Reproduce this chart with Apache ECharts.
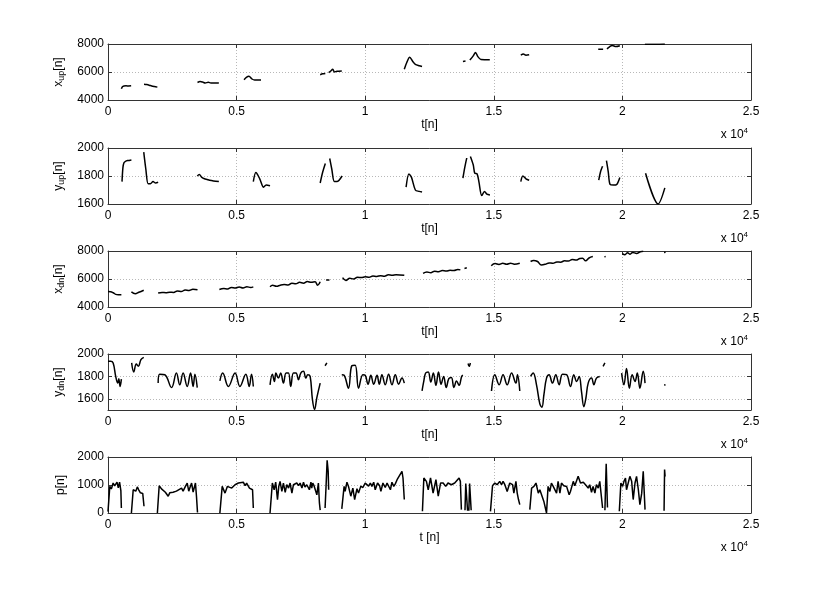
<!DOCTYPE html>
<html><head><meta charset="utf-8">
<script src="https://cdn.jsdelivr.net/npm/echarts@6/dist/echarts.min.js"></script>
<style>html,body{margin:0;padding:0;background:#fff}#c{width:830px;height:597px}</style>
</head><body><div id="c"></div>
<script>
// ---------- data (null = gap between recorded segments) ----------
const xTickLabels = ['0','0.5','1','1.5','2','2.5'];

const tXup = [520,560,620,700,800,900,null,
 1400,1500,1600,1700,1800,1920,null,
 3480,3580,3680,3780,3900,4000,4150,4310,null,
 5290,5380,5480,5600,5700,5950,null,
 8250,8350,8450,null,
 8580,8650,8740,8800,8900,9090,null,
 11520,11620,11730,11850,11950,12100,12210,null,
 13800,13900,null,
 14070,14200,14290,14380,14500,14844,null,
 16050,16150,16250,16375,null,
 19060,19250,null,
 19400,19500,19600,19750,19900,null,
 20875,21300,21650];
const xUp = [4800,4950,5000,5010,5000,5010,null,
 5120,5100,5060,5000,4960,4920,null,
 5250,5320,5280,5220,5260,5220,5220,5210,null,
 5450,5620,5700,5500,5430,5430,null,
 5800,5870,5900,null,
 5950,6050,6200,6000,6050,6080,null,
 6200,6700,7050,6750,6550,6450,6400,null,
 6750,6780,null,
 6850,7150,7400,7100,6900,6880,null,
 7200,7280,7200,7230,null,
 7620,7620,null,
 7650,7800,7900,7820,7880,null,
 7990,7980,8000];

const tYup = [545,580,620,680,760,910,null,
 1390,1470,1560,1650,1750,1850,1950,null,
 3470,3550,3650,3750,3850,3950,4100,4310,null,
 5650,5750,5900,6050,6150,6300,null,
 8250,8350,8450,null,
 8620,8700,8800,8900,9100,null,
 11590,11700,11800,11950,12100,12210,null,
 13800,13870,13950,null,
 14090,14200,14260,14350,14420,14530,14640,14730,14850,null,
 16050,16130,16250,16375,null,
 19080,19150,19230,null,
 19380,19450,19520,19650,19780,19900,null,
 20900,21390,21650];
const yUp = [1760,1860,1895,1905,1910,1915,null,
 1970,1850,1745,1745,1760,1750,1755,null,
 1800,1810,1790,1780,1775,1770,1765,1760,null,
 1760,1825,1780,1720,1735,1730,null,
 1750,1830,1890,null,
 1925,1850,1760,1760,1800,null,
 1720,1815,1790,1700,1690,1685,null,
 1785,1860,1930,null,
 1940,1880,1820,1815,1760,1660,1690,1670,1665,null,
 1760,1800,1780,1770,null,
 1770,1830,1870,null,
 1910,1830,1740,1735,1740,1790,null,
 1820,1600,1715];

const tXdn = [0,100,200,300,400,520,null,
 910,1060,1200,1390,null,
 1950,2100,2250,2400,2550,2700,2850,3000,3150,3300,3480,null,
 4330,4500,4650,4800,4950,5100,5250,5400,5550,5650,null,
 6300,6400,6550,6700,6850,7000,7150,7300,7450,7600,7750,7900,8050,8150,8250,null,
 8480,8610,null,
 9120,9250,9400,9550,9700,9850,10000,10150,10300,10450,10600,10750,10900,11050,11200,11520,null,
 12250,12400,12550,12700,12850,13000,13150,13300,13450,13600,13700,null,
 13860,13950,null,
 14900,15050,15200,15350,15500,15650,15800,16010,null,
 16430,16550,16700,16850,17000,17150,17300,17450,17600,17750,17900,18050,18200,18350,18450,18570,18700,18850,null,
 19300,19350,null,
 20000,20100,20200,20300,20400,20550,20700,20810,null,
 21620,21680];
const xDn = [5100,5090,5020,4900,4870,4870,null,
 5080,4950,5050,5200,null,
 5000,5040,5020,5060,5040,5150,5100,5220,5180,5260,5230,null,
 5250,5320,5290,5400,5360,5430,5360,5440,5400,5440,null,
 5450,5560,5480,5560,5600,5570,5700,5660,5760,5700,5820,5760,5800,5560,5800,null,
 5920,5930,null,
 6100,5900,6050,6000,6130,6100,6160,6120,6220,6180,6240,6200,6300,6270,6310,6270,null,
 6400,6500,6450,6560,6520,6600,6570,6620,6600,6680,6650,null,
 6750,6800,null,
 6950,7100,7040,7120,7050,7130,7060,7130,null,
 7250,7330,7250,7000,7050,7150,7120,7220,7200,7300,7280,7400,7350,7470,7480,7300,7500,7600,null,
 7580,7600,null,
 7820,7740,7880,7770,7900,7830,7950,7990,null,
 7900,7910];

const tYdn = [0,100,200,300,380,420,470,520,null,
 920,1000,1100,1180,1280,1390,null,
 1950,2010,2210,2470,2660,2790,2920,3080,3210,3310,3380,3470,null,
 4350,4460,4680,4940,5130,5360,5490,5580,5650,null,
 6300,6390,6470,6530,6625,6715,6820,6925,7015,7105,7210,7310,7405,7495,7600,7690,7770,7860,7950,8030,8120,8250,null,
 8440,8510,null,
 9090,9180,9350,9480,9610,9740,9910,10000,10110,10220,10330,10460,10550,10650,10780,10910,11040,11170,11300,11430,11520,null,
 12210,12280,12350,12450,12550,12650,12750,12850,12950,13050,13150,13250,13350,13450,13550,13650,13750,13800,null,
 14000,14040,14090,null,
 14910,15040,15210,15360,15520,15690,15860,15920,16010,null,
 16430,16530,16660,16790,16870,16950,17050,17150,17280,17410,17540,17670,17830,17980,18110,18220,18320,18410,18500,18580,18670,18800,18890,18990,19120,null,
 19250,19320,null,
 19970,20060,20160,20270,20380,20490,20580,20680,20810,20880,null,
 21620,21680];
const yDn = [1935,1935,1920,1800,1740,1780,1710,1775,null,
 1920,1840,1910,1890,1950,1970,null,
 1740,1820,1815,1700,1830,1725,1830,1710,1830,1710,1820,1700,null,
 1760,1830,1710,1830,1710,1820,1710,1820,1710,null,
 1725,1820,1755,1830,1785,1830,1740,1830,1830,1710,1830,1830,1770,1830,1845,1785,1815,1800,1590,1505,1610,1740,null,
 1895,1920,null,
 1815,1810,1695,1895,1900,1695,1815,1810,1730,1810,1730,1810,1730,1815,1725,1820,1725,1815,1730,1785,1740,null,
 1670,1760,1830,1840,1750,1830,1720,1840,1730,1800,1700,1780,1790,1700,1760,1720,1800,1810,null,
 1915,1890,1920,null,
 1670,1815,1725,1815,1725,1830,1740,1815,1670,null,
 1800,1830,1725,1555,1525,1640,1785,1815,1740,1815,1725,1820,1815,1710,1815,1755,1800,1665,1530,1605,1740,1785,1725,1785,1800,null,
 1890,1920,null,
 1830,1725,1870,1695,1815,1755,1830,1695,1845,1740,null,
 1725,1722];

const tP = [0,70,130,200,260,350,400,450,500,520,null,
 910,980,1040,1080,1140,1200,1260,1310,1350,1400,null,
 1920,1990,2080,2140,2230,2340,2400,2470,2530,2660,2730,2860,2920,3010,3080,3140,3180,3250,3310,3400,3440,3480,null,
 4350,4440,4550,4640,4810,4940,5070,5130,5260,5330,5390,5500,5550,5620,5650,null,
 6300,6390,6460,6520,6590,6640,6690,6760,6820,6890,6950,7020,7080,7150,7210,7280,7340,7410,7470,7540,7600,7660,7730,7790,7830,7890,7920,7960,8010,8120,8180,8220,8250,null,
 8440,8480,8520,8560,8580,null,
 9090,9180,9220,9290,9350,9440,9520,9590,9680,9740,9830,9910,10000,10070,10130,10200,10260,10330,10390,10480,10560,10610,10690,10780,10850,10910,10980,11040,11110,11170,11240,11300,11430,11470,11520,null,
 12225,12280,12380,12450,12540,12640,12750,12840,12930,13030,13130,13220,13350,13480,13650,13700,13740,null,
 13880,13910,13950,13980,null,
 14030,14060,14090,14120,null,
 14870,14950,15040,15130,15230,15300,15360,15430,15520,15620,15730,15780,15860,15910,15960,16010,null,
 16400,16470,16560,16640,16730,16790,16850,16950,17050,17110,17180,17240,17310,17370,17440,17500,17570,17630,17720,17830,17930,17980,18020,18090,18150,18220,18280,18370,18480,18540,18600,18670,18730,18800,18860,18930,18990,19060,19120,19190,19230,null,
 19320,19370,19420,null,
 19880,19940,20010,20060,20120,20160,20230,20290,20360,20420,20490,20550,20620,20680,20750,20810,20880,null,
 21620,21640,21660];
const pVal = [50,950,860,1070,970,1100,900,1100,800,180,null,
 0,830,890,780,930,820,720,780,700,240,null,
 0,975,860,830,740,600,720,660,740,780,720,890,780,950,1070,780,890,1070,750,1070,600,20,null,
 0,950,710,950,890,1010,1070,1010,1100,975,1070,890,950,830,180,null,
 0,1070,830,1100,480,950,1130,770,1070,740,1010,890,1070,710,1010,950,1070,975,1070,890,1100,930,1010,1070,830,1100,890,1070,975,650,1070,360,100,null,
 180,1000,1880,1500,830,null,
 150,950,770,1100,950,600,890,480,870,710,960,910,1070,1010,960,1070,950,1100,830,1070,975,770,1070,910,1070,1130,830,1100,950,1040,1190,1250,1490,1250,480,null,
 60,1250,1130,830,1250,710,1190,600,1070,1070,950,1070,1010,1070,1250,1130,120,null,
 100,1050,1030,80,null,
 80,1050,1030,100,null,
 60,975,1070,1010,1130,1010,1130,1010,770,1070,1010,710,1130,710,480,300,null,
 120,890,950,1070,710,830,770,400,0,950,770,1070,950,1010,710,1130,710,1070,975,950,650,770,710,1130,975,1010,1310,1070,1100,1070,975,890,1010,740,950,710,1010,890,1130,1070,180,null,
 100,1760,200,null,
 60,1070,950,1130,1250,830,770,1310,1130,480,1070,1310,830,300,700,1490,120,null,
 80,1550,1300];

// ---------- chart ----------
const FONT = '"Liberation Sans", Helvetica, Arial, sans-serif';
const TOPS = [44,148,251,354,457];
const H = 56;
const AX = '#333';
const panels = [
  {t:tXup, v:xUp, min:4000, max:8000, interval:2000, name:'x{sub|up}[n]', xname:'t[n]', smooth:0.3},
  {t:tYup, v:yUp, min:1600, max:2000, interval:200, name:'y{sub|up}[n]', xname:'t[n]', smooth:0.3},
  {t:tXdn, v:xDn, min:4000, max:8000, interval:2000, name:'x{sub|dn}[n]', xname:'t[n]', smooth:0.4},
  {t:tYdn, v:yDn, min:1500, max:2000, custom:[1600,1800,2000], name:'y{sub|dn}[n]', xname:'t[n]', smooth:0.4},
  {t:tP, v:pVal, min:0, max:2000, interval:1000, name:'p[n]', xname:'t [n]', smooth:0}
];

const grid=[], xAxis=[], yAxis=[], series=[], graphic=[];
panels.forEach((p,i)=>{
  grid.push({left:108, right:79, top:TOPS[i], height:H, show:false});
  const xBase = {gridIndex:i, type:'value', min:0, max:25000, interval:5000,
    axisLine:{show:true, onZero:false, lineStyle:{color:AX, width:1}},
    axisTick:{show:true, inside:true, length:4, lineStyle:{color:AX}}};
  xAxis.push(Object.assign({}, xBase, {position:'bottom',
    axisLabel:{color:'#000', fontSize:12, fontFamily:FONT, margin:6,
      formatter:(v)=>xTickLabels[Math.round(v/5000)]},
    splitLine:{show:true, lineStyle:{type:[1,2], color:'#b8b8b8', width:1}},
    name:p.xname, nameLocation:'middle', nameGap:19,
    nameTextStyle:{color:'#000', fontSize:12, fontFamily:FONT}}));
  xAxis.push(Object.assign({}, xBase, {position:'top', axisLabel:{show:false}, splitLine:{show:false}}));
  const yBase = {gridIndex:i, type:'value', min:p.min, max:p.max,
    axisLine:{show:true, onZero:false, lineStyle:{color:AX, width:1}}};
  if (p.custom) {
    yBase.axisTick = {show:true, inside:true, length:4, lineStyle:{color:AX}, customValues:p.custom};
  } else {
    yBase.interval = p.interval;
    yBase.axisTick = {show:true, inside:true, length:4, lineStyle:{color:AX}};
  }
  const lab = {color:'#000', fontSize:12, fontFamily:FONT, margin:4, formatter:(v)=>String(v)};
  if (p.custom) lab.customValues = p.custom;
  yAxis.push(Object.assign({}, yBase, {position:'left', axisLabel:lab,
    splitLine:{show:true, lineStyle:{type:[1,2], color:'#b8b8b8', width:1}},
    name:p.name, nameLocation:'middle', nameGap:34,
    nameTextStyle:{color:'#000', fontSize:12, fontFamily:FONT,
      rich:{sub:{fontSize:9, fontFamily:FONT, color:'#000', padding:[7,0,0,0]}}}}));
  yAxis.push(Object.assign({}, yBase, {position:'right', axisLabel:{show:false}, splitLine:{show:false}}));
  series.push({type:'line', xAxisIndex:2*i, yAxisIndex:2*i, showSymbol:false, symbol:'none',
    connectNulls:false, silent:true, animation:false, smooth:p.smooth,
    lineStyle:{color:'#000', width:1.5},
    data:p.t.map((t,k)=> t===null ? ['-','-'] : [t, p.v[k]])});
  graphic.push({type:'text', right:830-748, top:TOPS[i]+H+27,
    style:{text:'x 10{sup|4}', fill:'#000', font:'12px '+FONT,
      rich:{sup:{fontSize:8, fontFamily:FONT, fill:'#000', padding:[0,0,7,0]}}}});
});

const chart = echarts.init(document.getElementById('c'), null, {renderer:'canvas'});
chart.setOption({animation:false, backgroundColor:'#fff', grid, xAxis, yAxis, series, graphic});
</script></body></html>
